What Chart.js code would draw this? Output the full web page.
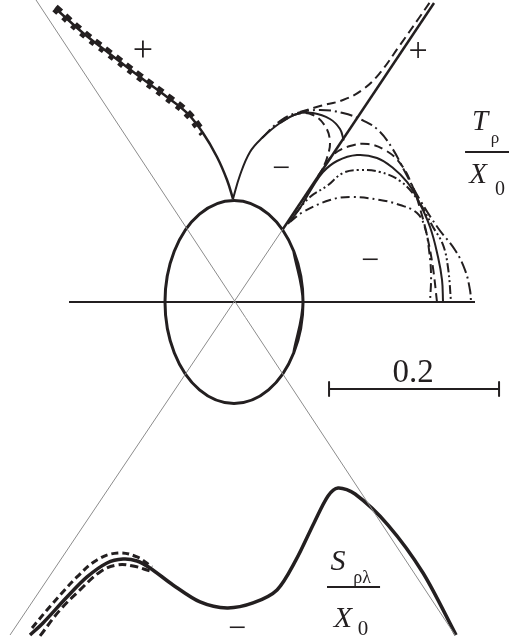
<!DOCTYPE html>
<html>
<head>
<meta charset="utf-8">
<script src="https://cdn.jsdelivr.net/npm/chart.js@4.4.1/dist/chart.umd.min.js"></script>
<style>
html,body{margin:0;padding:0;background:#fff;}
canvas{display:block;}
</style>
</head>
<body>
<canvas id="c" width="509" height="639"></canvas>
<script>
// ---- data (units of X0; scale bar = 0.2) ----
const ellipse = [[0.0703,-0.0597],[0.0812,0],[0.0703,0.0597],[0.0406,0.1034],[0,0.1194],[-0.0406,0.1034],[-0.0703,0.0597],[-0.0812,0],[-0.0703,-0.0597],[-0.0406,-0.1034],[0,-0.1194],[0.0406,-0.1034],[0.0703,-0.0597],[0.0812,0],[0.0703,0.0597]];
const asymA = [[-0.2329,0.3553],[0.2600,-0.3918]];
const asymB = [[-0.2635,-0.3918],[0.0576,0.0859]];
const branchLine = [[0.0576,0.0859],[0.2353,0.3518]];
const axisLine = [[-0.1941,0],[0.2835,0]];
const leftSolid = [[-0.2106,0.3459],[-0.1776,0.3165],[-0.1459,0.2918],[-0.1106,0.2647],[-0.0788,0.2412],[-0.0553,0.2224],[-0.0365,0.1988],[-0.0200,0.1706],[-0.0082,0.1435],[-0.0012,0.1212]];
const leftDashA = [[-0.2088,0.3482],[-0.1758,0.3188],[-0.1441,0.2941],[-0.1088,0.2670],[-0.0770,0.2435],[-0.0535,0.2247],[-0.0347,0.2011]];
const leftDashB = [[-0.2124,0.3436],[-0.1794,0.3142],[-0.1477,0.2895],[-0.1124,0.2624],[-0.0806,0.2389],[-0.0571,0.2201],[-0.0383,0.1965]];
const lobeSolid = [[-0.0012,0.1212],[0.0071,0.1494],[0.0188,0.1765],[0.0329,0.1929],[0.0541,0.2106],[0.0741,0.2212],[0.0929,0.2224],[0.1129,0.2153],[0.1247,0.2035],[0.1290,0.1900]];
const lobeDash = [[0.0541,0.2106],[0.0741,0.2212],[0.0929,0.2200],[0.1071,0.2071],[0.1129,0.1882],[0.1094,0.1694],[0.1035,0.1553]];
const upperDash = [[0.0776,0.2235],[0.1012,0.2306],[0.1282,0.2376],[0.1506,0.2494],[0.1706,0.2682],[0.1953,0.3024],[0.2176,0.3341],[0.2306,0.3529]];
const rightSolid = [[0.0635,0.0918],[0.0776,0.1106],[0.0918,0.1341],[0.1047,0.1529],[0.1212,0.1659],[0.1447,0.1729],[0.1682,0.1694],[0.1871,0.1576],[0.2035,0.1412],[0.2165,0.1200],[0.2306,0.0882],[0.2400,0.0529],[0.2447,0.0259],[0.2459,0]];
const rightDashA = [[0.0988,0.1482],[0.1165,0.1729],[0.1365,0.1835],[0.1576,0.1859],[0.1776,0.1788],[0.1953,0.1635],[0.2094,0.1376],[0.2200,0.1059],[0.2282,0.0729],[0.2341,0.0400],[0.2388,0]];
const rightDotB = [[0.0329,0.1929],[0.0541,0.2129],[0.0741,0.2224],[0.1012,0.2259],[0.1282,0.2224],[0.1506,0.2141],[0.1694,0.2024],[0.1859,0.1812],[0.2012,0.1529],[0.2188,0.1200],[0.2400,0.0871],[0.2600,0.0612],[0.2718,0.0376],[0.2776,0.0141],[0.2788,0]];
const rightDotC = [[0.0718,0.1035],[0.0894,0.1235],[0.1094,0.1365],[0.1282,0.1518],[0.1482,0.1553],[0.1718,0.1529],[0.1953,0.1424],[0.2153,0.1212],[0.2341,0.0882],[0.2459,0.0671],[0.2518,0.0400],[0.2553,0]];
const rightDotD = [[0.0659,0.0941],[0.0812,0.1059],[0.1129,0.1200],[0.1365,0.1235],[0.1718,0.1200],[0.1953,0.1141],[0.2153,0.1047],[0.2247,0.0871],[0.2294,0.0612],[0.2318,0.0318],[0.2306,0]];
const sSolid = [[-0.2400,-0.3918],[-0.2247,-0.3776],[-0.1965,-0.3471],[-0.1729,-0.3235],[-0.1494,-0.3071],[-0.1306,-0.3024],[-0.1141,-0.3047],[-0.0988,-0.3129],[-0.0718,-0.3329],[-0.0400,-0.3529],[-0.0082,-0.3600],[0.0224,-0.3541],[0.0506,-0.3388],[0.0729,-0.3035],[0.0941,-0.2600],[0.1106,-0.2282],[0.1224,-0.2188],[0.1424,-0.2259],[0.1812,-0.2624],[0.2224,-0.3188],[0.2612,-0.3918]];
const sDashA = [[-0.2376,-0.3835],[-0.2200,-0.3624],[-0.2024,-0.3424],[-0.1847,-0.3235],[-0.1612,-0.3035],[-0.1365,-0.2953],[-0.1141,-0.3000],[-0.0965,-0.3118]];
const sDashB = [[-0.2282,-0.3929],[-0.2047,-0.3624],[-0.1812,-0.3388],[-0.1576,-0.3176],[-0.1376,-0.3094],[-0.1188,-0.3106],[-0.0988,-0.3165]];
const scaleBar = [[0.1118,-0.1024],[0.3118,-0.1024]];
const scaleTickL = [[0.1118,-0.0941],[0.1118,-0.1106]];
const scaleTickR = [[0.3118,-0.0941],[0.3118,-0.1106]];
const fracT = [[0.2718,0.1765],[0.3235,0.1765]];
const fracS = [[0.1094,-0.3353],[0.1718,-0.3353]];
const scaleLabel = "0.2";

const INK = '#231f20';
const GREY = '#8c8c8c';
const SERIF = '"Liberation Serif","Times New Roman",serif';
function pts(a){return a.map(p=>({x:p[0],y:p[1]}));}
function ds(a,w,color,dash,tension){
  return {data:pts(a),showLine:true,pointRadius:0,borderWidth:w,borderColor:color||INK,borderDash:dash||[],tension:tension===undefined?0.4:tension,fill:false,borderCapStyle:'butt',borderJoinStyle:'round'};
}
const DASH=[9,5], DD=[9,4,2,4], DDD=[9,3,2,3,2,3], LDD=[12,4,2,4];

const labels = [
  {t:'+',x:-0.1071,y:0.2835,f:'36px '+SERIF},
  {t:'+',x:0.2165,y:0.2835,f:'34px '+SERIF},
  {t:'\u2212',x:0.0553,y:0.1459,f:'32px '+SERIF},
  {t:'\u2212',x:0.1600,y:0.0376,f:'32px '+SERIF},
  {t:'\u2212',x:0.0035,y:-0.3953,f:'32px '+SERIF},
  {t:'T',x:0.2894,y:0.2024,f:'italic 29px '+SERIF},
  {t:'\u03c1',x:0.3071,y:0.1871,f:'17px '+SERIF},
  {t:'X',x:0.2871,y:0.1400,f:'italic 29px '+SERIF},
  {t:'0',x:0.3129,y:0.1259,f:'20px '+SERIF},
  {t:'S',x:0.1224,y:-0.3153,f:'italic 30px '+SERIF},
  {t:'\u03c1\u03bb',x:0.1506,y:-0.3306,f:'18px '+SERIF},
  {t:'X',x:0.1282,y:-0.3824,f:'italic 30px '+SERIF},
  {t:'0',x:0.1518,y:-0.3918,f:'21px '+SERIF},
  {t:scaleLabel,x:0.2106,y:-0.0941,f:'33px '+SERIF}
];

const textPlugin = {
  id:'texts',
  afterDatasetsDraw(chart){
    const c=chart.ctx, sx=chart.scales.x, sy=chart.scales.y;
    c.save();
    c.fillStyle=INK; c.textAlign='center'; c.textBaseline='alphabetic';
    labels.forEach(l=>{c.font=l.f;c.fillText(l.t,sx.getPixelForValue(l.x),sy.getPixelForValue(l.y));});
    c.restore();
  }
};

function build(){
new Chart(document.getElementById('c'),{
  type:'scatter',
  data:{datasets:[
    ds(asymA,1,GREY,[],0),
    ds(asymB,1,GREY,[],0),
    ds(axisLine,2,INK,[],0),
    ds(ellipse,3,INK,[],0.36),
    ds(branchLine,2.5,INK,[],0),
    ds(leftDashA,3.5,INK,[7,6]),
    ds(leftDashB,3.5,INK,[5,7]),
    ds(leftSolid,2.5),
    ds(lobeDash,2,INK,DASH),
    ds(upperDash,2,INK,DASH),
    ds(lobeSolid,2),
    ds(rightDashA,2,INK,DASH),
    ds(rightDotB,2,INK,LDD),
    ds(rightDotC,2,INK,DDD),
    ds(rightDotD,2,INK,DD),
    ds(rightSolid,2),
    ds(sDashA,3,INK,[7,4]),
    ds(sDashB,3,INK,[8,4]),
    ds(sSolid,3.5,INK,[],0.3),
    ds(scaleBar,2,INK,[],0),
    ds(scaleTickL,2,INK,[],0),
    ds(scaleTickR,2,INK,[],0),
    ds(fracT,2,INK,[],0),
    ds(fracS,2,INK,[],0)
  ]},
  options:{
    responsive:false,animation:false,devicePixelRatio:1,
    layout:{padding:0},
    plugins:{legend:{display:false},tooltip:{enabled:false}},
    scales:{
      x:{type:'linear',min:-0.2753,max:0.3235,display:false},
      y:{type:'linear',min:-0.3965,max:0.3553,display:false}
    }
  },
  plugins:[textPlugin]
});
}
if (document.fonts && document.fonts.load) {
  Promise.all([
    document.fonts.load('30px "Liberation Serif"'),
    document.fonts.load('italic 30px "Liberation Serif"')
  ]).then(build, build);
} else { build(); }
</script>
</body>
</html>
